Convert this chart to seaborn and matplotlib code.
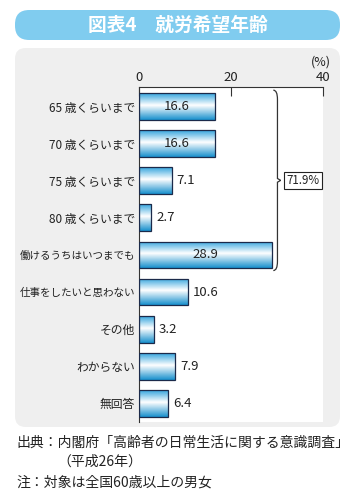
import numpy as np
import matplotlib
matplotlib.use("Agg")
import matplotlib.pyplot as plt
from matplotlib.patches import FancyBboxPatch, PathPatch
from matplotlib.path import Path
from matplotlib.colors import LinearSegmentedColormap
import seaborn as sns

categories = ["65 歳くらいまで", "70 歳くらいまで", "75 歳くらいまで", "80 歳くらいまで",
              "働けるうちはいつまでも", "仕事をしたいと思わない", "その他", "わからない", "無回答"]
values = [16.6, 16.6, 7.1, 2.7, 28.9, 10.6, 3.2, 7.9, 6.4]
xticks = [0, 20, 40]
bracket_label = "71.9%"
title = "図表4　就労希望年齢"
notes = ["出典：内閣府「高齢者の日常生活に関する意識調査」", "（平成26年）", "注：対象は全国60歳以上の男女"]

sns.set_style("white")
plt.rcParams["font.family"] = ["Noto Sans CJK JP", "DejaVu Sans"]

W, H = 356, 501
fig = plt.figure(figsize=(W / 100, H / 100), dpi=100)
fig.patch.set_facecolor("white")

def fx(px):
    return px / W

def fy(py):
    return 1 - py / H

# title banner and grey panel
fig.patches.append(FancyBboxPatch((fx(15), fy(40)), fx(325), 30 / H,
                                  boxstyle="round,pad=0,rounding_size=0.04",
                                  mutation_aspect=W / H,
                                  transform=fig.transFigure, fc="#80ccef", ec="none", zorder=-2))
fig.text(0.5, fy(25), title, color="white", fontsize=13.5, fontweight="bold", ha="center", va="center")
fig.patches.append(FancyBboxPatch((fx(15), fy(427)), fx(325), 379 / H,
                                  boxstyle="round,pad=0,rounding_size=0.03",
                                  mutation_aspect=W / H,
                                  transform=fig.transFigure, fc="#efefef", ec="none", zorder=-2))

ax = fig.add_axes([fx(139), fy(422), fx(323) - fx(139), (422 - 87) / H])
ax.set_zorder(2)
ax.set_facecolor("white")

sns.barplot(x=values, y=categories, orient="h", width=0.72, ax=ax,
            color="#3aa7de", edgecolor="#1b2a4a", linewidth=0.9)

cmap = LinearSegmentedColormap.from_list("bar", [(0, "#35a5de"), (0.45, "#ffffff"), (1, "#1890cd")])
grad = np.linspace(0, 1, 64).reshape(-1, 1)
for p in ax.patches:
    x0, y0, w, h = p.get_x(), p.get_y(), p.get_width(), p.get_height()
    im = ax.imshow(grad, cmap=cmap, extent=(x0, x0 + w, y0 + h, y0), origin="upper",
                   aspect="auto", zorder=2, interpolation="bilinear")
    im.set_clip_path(p)
    p.set_facecolor("none")
    p.set_zorder(3)

for i, v in enumerate(values):
    if v > 15:
        ax.text(v / 2, i, f"{v}", ha="center", va="center", fontsize=9.5, color="#222222", zorder=4)
    else:
        ax.text(v + 1.1, i, f"{v}", ha="left", va="center", fontsize=9.5, color="#222222", zorder=4)

ax.set_xlim(0, 40)
ax.set_ylim(8.5, -0.525)
ax.xaxis.tick_top()
ax.set_xticks(xticks)
ax.set_xticklabels([str(t) for t in xticks])
ax.tick_params(axis="x", direction="in", length=6.5, width=0.8, color="#333333",
               labelsize=9.5, pad=2, labelcolor="#222222")
ax.tick_params(axis="y", length=0, pad=3, labelcolor="#222222")
for lab in ax.get_yticklabels():
    lab.set_fontsize(7.6 if len(lab.get_text()) > 9 else 8.5)
ax.set_xlabel("")
ax.set_ylabel("")
for s in ["right", "bottom"]:
    ax.spines[s].set_visible(False)
for s in ["top", "left"]:
    ax.spines[s].set_color("#333333")
    ax.spines[s].set_linewidth(0.8)

fig.text(fx(321), fy(62), "(%)", ha="center", va="center", fontsize=9, color="#222222")

# curly bracket grouping the first five bars
xa, xb, xp = 29.2, 30.1, 30.8
ya, yb, ym = -0.44, 4.42, (-0.44 + 4.42) / 2
verts = [(xa, ya), (xb, ya), (xb, ya + 0.25),
         (xb, ym - 0.2), (xb, ym - 0.05), (xp, ym),
         (xb, ym + 0.05), (xb, ym + 0.2),
         (xb, yb - 0.25), (xb, yb), (xa, yb)]
codes = [Path.MOVETO, Path.CURVE3, Path.CURVE3,
         Path.LINETO, Path.LINETO, Path.LINETO,
         Path.LINETO, Path.LINETO,
         Path.LINETO, Path.CURVE3, Path.CURVE3]
ax.add_patch(PathPatch(Path(verts, codes), fc="none", ec="#333333", lw=0.9, zorder=4))
ax.text(35.7, ym, bracket_label, ha="center", va="center", fontsize=8.3, color="#222222",
        bbox=dict(boxstyle="square,pad=0.2", fc="white", ec="#222222", lw=0.8), zorder=5)

fig.text(fx(16), fy(443), notes[0], ha="left", va="center", fontsize=10, color="#222222")
fig.text(fx(57), fy(462), notes[1], ha="left", va="center", fontsize=10, color="#222222")
fig.text(fx(16), fy(483), notes[2], ha="left", va="center", fontsize=10, color="#222222")

fig.savefig("out.png", dpi=100)
